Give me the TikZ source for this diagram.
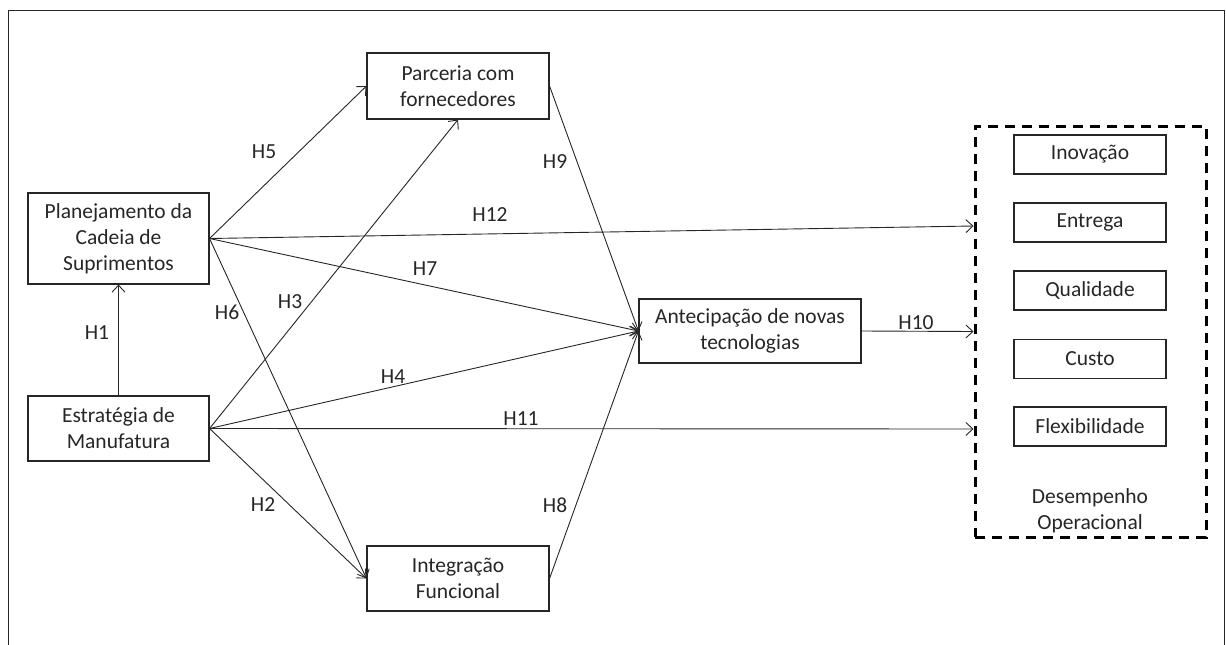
\documentclass[tikz,border=0pt]{standalone}
\usepackage{fontspec}
\setmainfont{Carlito}
\usetikzlibrary{arrows.meta}
\begin{document}
\begin{tikzpicture}[x=1pt,y=-1pt,
  every node/.style={font=\fontsize{21.5}{26}\selectfont, text=black!85},
  construct/.style={draw=black!85, line width=1.1pt, rectangle, inner sep=0pt, align=center},
  measure/.style={construct, minimum width=152pt, minimum height=39pt},
  hyp/.style={draw=black!85, line width=0.9pt, -{Straight Barb[length=7pt,width=13pt,line width=0.9pt]}},
  hlabel/.style={inner sep=0pt}
]
\useasboundingbox (0,0) rectangle (1226,645);
% open outer frame
\draw[black!85, line width=1pt] (8,645) -- (8,10) -- (1224.5,10) -- (1224.5,645);

% constructs
\node[construct, minimum width=181pt, minimum height=91pt] (plan) at (118.5,238.5)
  {Planejamento da\\Cadeia de\\Suprimentos};
\node[construct, minimum width=181pt, minimum height=65pt] (estr) at (118.5,428.5)
  {Estratégia de\\Manufatura};
\node[construct, minimum width=182pt, minimum height=66pt] (parc) at (458,86)
  {Parceria com\\fornecedores};
\node[construct, minimum width=182pt, minimum height=65pt] (integ) at (458,578.5)
  {Integração\\Funcional};
\node[construct, minimum width=222pt, minimum height=64pt] (antec) at (750,331)
  {Antecipação de novas\\tecnologias};

% operational performance group
\node[draw=black, line width=3pt, dash pattern=on 10pt off 7pt, inner sep=0pt,
      minimum width=231pt, minimum height=411pt] (perf) at (1090.5,331.5) {};
\node[measure] (inov) at (1090,154.5) {Inovação};
\node[measure] (entr) at (1090,222.5) {Entrega};
\node[measure] (qual) at (1090,290.5) {Qualidade};
\node[measure] (cust) at (1090,359) {Custo};
\node[measure] (flex) at (1090,426.5) {Flexibilidade};
\node[align=center, inner sep=0pt] (perftitle) at (1090,511) {Desempenho\\Operacional};

\coordinate (perfH12) at (perf.west |- 0,226);
\coordinate (perfH11) at (perf.west |- 0,429);

% hypotheses
\draw[hyp] (estr.north) -- (plan.south);
\draw[hyp] (plan.east) -- (parc.west);
\draw[hyp] (plan.east) -- (perfH12);
\draw[hyp] (plan.east) -- (antec.west);
\draw[hyp] (plan.east) -- (integ.west);
\draw[hyp] (estr.east) -- (parc.south);
\draw[hyp] (estr.east) -- (antec.west);
\draw[hyp] (estr.east) -- (perfH11);
\draw[hyp] (estr.east) -- (integ.west);
\draw[hyp] (parc.east) -- (antec.west);
\draw[hyp] (integ.east) -- (antec.west);
\draw[hyp] (antec.east) -- (perf.west);

% hypothesis labels
\node[hlabel] (h1) at (97,333) {H1};
\node[hlabel] (h5) at (264,152) {H5};
\node[hlabel] (h12) at (490,215) {H12};
\node[hlabel] (h7) at (425,269) {H7};
\node[hlabel] (h6) at (227,312) {H6};
\node[hlabel] (h3) at (290,302) {H3};
\node[hlabel] (h4) at (393,377) {H4};
\node[hlabel] (h11) at (521,419) {H11};
\node[hlabel] (h2) at (263,505) {H2};
\node[hlabel] (h9) at (555,162) {H9};
\node[hlabel] (h8) at (555,505) {H8};
\node[hlabel] (h10) at (916,323) {H10};
\end{tikzpicture}
\end{document}
